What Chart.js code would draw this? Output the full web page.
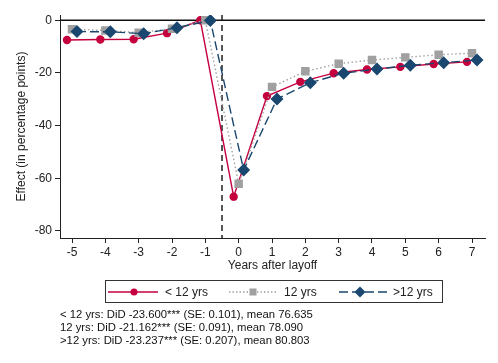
<!DOCTYPE html>
<html>
<head>
<meta charset="utf-8">
<script src="https://cdn.jsdelivr.net/npm/chart.js@4"></script>
<style>
  body { margin: 0; background: #fff; font-family: 'Liberation Sans', Arial, sans-serif; }
  #wrap { position: relative; width: 498px; height: 363px; }
  #legend { position: absolute; left: 105px; top: 280px; width: 336px; height: 21px;
            border: 1px solid #333; font-size: 12px; color: #222; }
  #legend svg { position: absolute; top: 0; left: 0; }
  #legend span { position: absolute; top: 4px; }
  #notes { position: absolute; left: 60px; top: 308px; font-size: 11.3px; line-height: 13px; color: #111; }
</style>
</head>
<body>
<div id="wrap">
  <canvas id="chart" width="498" height="363"></canvas>
  <div id="legend">
    <svg width="336" height="21">
      <line x1="2" y1="11" x2="52" y2="11" stroke="#c5003e" stroke-width="1.4"/>
      <circle cx="28" cy="11" r="3.5" fill="#c5003e"/>
      <line x1="123" y1="11" x2="170" y2="11" stroke="#a0a0a0" stroke-width="1.4" stroke-dasharray="1.5 2"/>
      <rect x="143.5" y="7.5" width="7" height="7" fill="#a0a0a0"/>
      <line x1="233" y1="11" x2="282" y2="11" stroke="#1a476f" stroke-width="1.4" stroke-dasharray="9 4"/>
      <polygon points="254,5.5 259.5,11 254,16.5 248.5,11" fill="#1a476f"/>
    </svg>
    <span style="left:59px">&lt; 12 yrs</span>
    <span style="left:178px">12 yrs</span>
    <span style="left:287px">&gt;12 yrs</span>
  </div>
  <div id="notes">
    &lt; 12 yrs: DiD -23.600*** (SE: 0.101), mean 76.635<br>
    12 yrs: DiD -21.162*** (SE: 0.091), mean 78.090<br>
    &gt;12 yrs: DiD -23.237*** (SE: 0.207), mean 80.803
  </div>
</div>
<script>
// 年（解雇からの経過年数）
const years = [-5, -4, -3, -2, -1, 0, 1, 2, 3, 4, 5, 6, 7];
// 各グループの効果（パーセンテージポイント）
const lessThan12 = [-7.5, -7.3, -7.2, -4.9, 0, -67.0, -28.8, -23.4, -20.1, -18.7, -17.7, -16.6, -15.8];
const exactly12 = [-3.4, -3.9, -4.7, -3.2, 0, -62.1, -25.3, -19.4, -16.5, -15.1, -14.1, -13.1, -12.5];
const moreThan12 = [-4.3, -4.4, -5.1, -2.8, -0.1, -56.9, -29.9, -23.7, -20.1, -18.5, -17.1, -16.1, -15.1];
const seriesLabels = ['< 12 yrs', '12 yrs', '>12 yrs'];
const yTicks = [-80, -60, -40, -20, 0];
const layoffLine = -0.5;

const FONT = "'Liberation Sans', Arial, sans-serif";

// 系列ごとに少し横にずらす
function toPoints(values, shift) {
    return years.map((yr, i) => ({ x: yr + shift, y: values[i] }));
}

// 0の横線と解雇時点の縦の破線
const refLines = {
    id: 'refLines',
    beforeDatasetsDraw(chart) {
        const { ctx, chartArea, scales } = chart;
        const y0 = scales.y.getPixelForValue(0);
        const xl = scales.x.getPixelForValue(layoffLine);
        ctx.save();
        ctx.strokeStyle = '#111';
        ctx.lineWidth = 1.4;
        ctx.beginPath();
        ctx.moveTo(chartArea.left, y0);
        ctx.lineTo(chartArea.right, y0);
        ctx.stroke();
        ctx.setLineDash([6, 4]);
        ctx.beginPath();
        ctx.moveTo(xl, chartArea.top);
        ctx.lineTo(xl, chartArea.bottom);
        ctx.stroke();
        ctx.restore();
    }
};

const ctx = document.getElementById('chart').getContext('2d');
const chart = new Chart(ctx, {
    type: 'line',
    data: {
        datasets: [
            {
                label: seriesLabels[0],
                data: toPoints(lessThan12, -0.15),
                borderColor: '#c5003e',
                backgroundColor: '#c5003e',
                borderWidth: 1.4,
                pointStyle: 'circle',
                pointRadius: 3.5,
                order: 3
            },
            {
                label: seriesLabels[1],
                data: toPoints(exactly12, 0),
                borderColor: '#a0a0a0',
                backgroundColor: '#a0a0a0',
                borderWidth: 1.4,
                borderDash: [1.5, 2.5],
                pointStyle: 'rect',
                pointRadius: 5,
                order: 2
            },
            {
                label: seriesLabels[2],
                data: toPoints(moreThan12, 0.15),
                borderColor: '#1a476f',
                backgroundColor: '#1a476f',
                borderWidth: 1.4,
                borderDash: [9, 4],
                pointStyle: 'rectRot',
                pointRadius: 5.5,
                order: 1
            }
        ]
    },
    options: {
        responsive: false,
        animation: false,
        layout: { padding: { top: 15, right: 13, bottom: 88, left: 0 } },
        plugins: {
            legend: { display: false },
            tooltip: { enabled: false }
        },
        elements: { line: { tension: 0 }, point: { borderWidth: 0 } },
        scales: {
            x: {
                type: 'linear',
                min: -5.36,
                max: 7.39,
                afterBuildTicks: s => { s.ticks = years.map(v => ({ value: v })); },
                afterFit: s => { s.height = 37; },
                grid: { drawOnChartArea: false, drawTicks: true, tickLength: 5, color: '#222' },
                border: { display: true, color: '#222', width: 1 },
                ticks: { color: '#222', font: { family: FONT, size: 12 }, padding: 2, maxRotation: 0 },
                title: { display: true, text: 'Years after layoff', color: '#222',
                         font: { family: FONT, size: 12 }, padding: { top: 0, bottom: 2 } }
            },
            y: {
                type: 'linear',
                min: -82.7,
                max: 2,
                afterBuildTicks: s => { s.ticks = yTicks.map(v => ({ value: v })); },
                afterFit: s => { s.width = 60; },
                grid: { drawOnChartArea: false, drawTicks: true, tickLength: 5, color: '#222' },
                border: { display: true, color: '#222', width: 1 },
                ticks: { color: '#222', font: { family: FONT, size: 12 }, padding: 3 },
                title: { display: true, text: 'Effect (in percentage points)', color: '#222',
                         font: { family: FONT, size: 12 }, padding: { top: 14, bottom: 0 } }
            }
        }
    },
    plugins: [refLines]
});
</script>
</body>
</html>
